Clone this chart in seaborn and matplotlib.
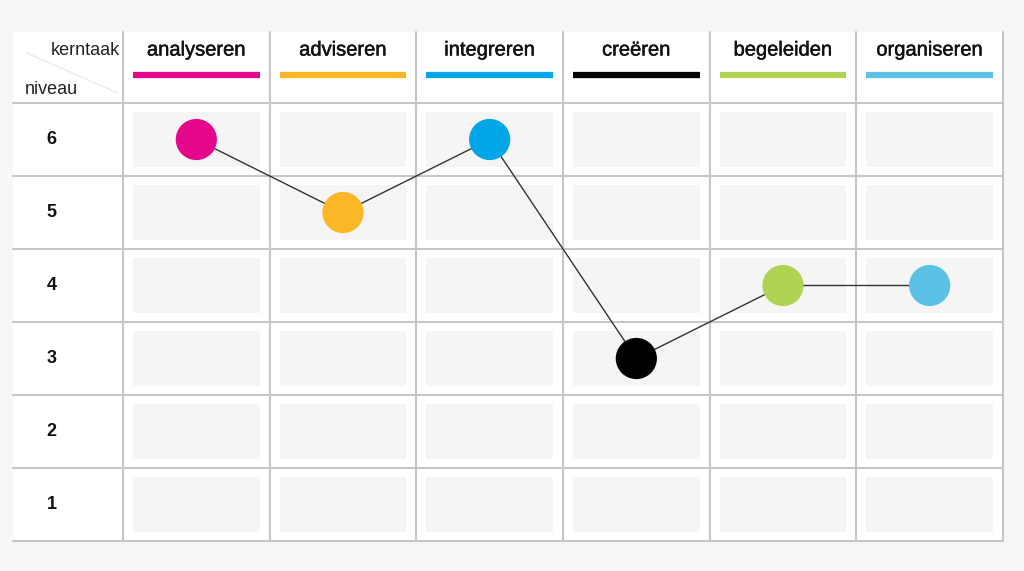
import matplotlib
matplotlib.use("Agg")
import matplotlib.pyplot as plt
import matplotlib.patheffects as pe
from matplotlib.patches import Rectangle
import pandas as pd
import seaborn as sns

kerntaken = ["analyseren", "adviseren", "integreren", "creëren", "begeleiden", "organiseren"]
niveaus = [1, 2, 3, 4, 5, 6]
scores = [6, 5, 6, 3, 4, 4]
kleuren = ["#e4078c", "#fbb726", "#00a6e6", "#000000", "#b1d354", "#5bc2e6"]

sns.set_theme(style="white")
plt.rcParams["font.family"] = ["Liberation Sans", "DejaVu Sans"]

df = pd.DataFrame({"kerntaak": kerntaken, "pos": range(len(kerntaken)), "niveau": scores})

fig = plt.figure(figsize=(10.24, 5.71), dpi=100, facecolor="#f6f6f6")
ax = fig.add_axes([123 / 1024, 30 / 571, 880 / 1024, 438 / 571])
ax.set_facecolor("none")
ax.set_xlim(-0.5, len(kerntaken) - 0.5)
ax.set_ylim(0.5, 6.5)

grid = "#c6c6c6"
# white background behind header + label column
ax.add_patch(Rectangle((-1.25, 0.5), len(kerntaken) + 0.75, 6.97, color="white",
                       lw=0, zorder=0, clip_on=False))

# inner gray cells
for i in range(len(kerntaken)):
    for n in niveaus:
        ax.add_patch(Rectangle((i - 0.5 + 0.068, n - 0.5 + 0.13), 0.864, 0.74,
                               color="#f5f5f5", lw=0, zorder=1))

# grid lines
for i in range(len(kerntaken) + 1):
    ax.plot([i - 0.5, i - 0.5], [0.5, 7.47], color=grid, lw=1.5, clip_on=False, zorder=2)
for n in range(len(niveaus) + 1):
    ax.plot([-1.25, len(kerntaken) - 0.5], [n + 0.5, n + 0.5], color=grid, lw=1.5,
            clip_on=False, zorder=2)

# header labels and colored bars
semibold = [pe.withStroke(linewidth=0.35, foreground="#111111")]
for i, (k, c) in enumerate(zip(kerntaken, kleuren)):
    ax.text(i, 7.226, k, ha="center", va="center", fontsize=14.5, color="#111111",
            clip_on=False, path_effects=semibold)
    ax.plot([i - 0.432, i + 0.432], [6.884, 6.884], color=c, lw=4.5,
            solid_capstyle="butt", clip_on=False)

ax.text(-0.52, 7.226, "kerntaak", ha="right", va="center", fontsize=13, color="#222222")
ax.text(-1.17, 6.68, "niveau", ha="left", va="center", fontsize=13, color="#222222")
ax.plot([-1.16, -0.54], [7.19, 6.64], color="#ececec", lw=1, clip_on=False, zorder=1)

for n in niveaus:
    ax.text(-0.988, n, str(n), ha="center", va="center", fontsize=13,
            fontweight="bold", color="#111111")

sns.lineplot(data=df, x="pos", y="niveau", color="#333333", lw=1, ax=ax, zorder=3,
             sort=False)
sns.scatterplot(data=df, x="pos", y="niveau", hue="kerntaak", palette=kleuren,
                s=880, edgecolor="none", legend=False, ax=ax, zorder=4, clip_on=False)

ax.set_xticks([])
ax.set_yticks([])
ax.set_xlabel("")
ax.set_ylabel("")
for s in ax.spines.values():
    s.set_visible(False)

fig.savefig("out.png", dpi=100, facecolor=fig.get_facecolor())
